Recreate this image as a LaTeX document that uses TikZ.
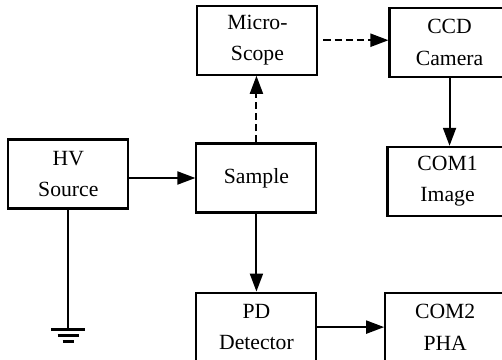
\documentclass[tikz,border=0pt]{standalone}
\usepackage{fontspec}
\setmainfont{Liberation Serif}
\usetikzlibrary{positioning,calc,arrows.meta}
\tikzset{
	blk/.style={draw,line width=1.8pt,minimum width=3.6cm,minimum height=2.07cm,inner sep=0pt,align=center,font=\fontsize{18.5}{27}\selectfont},
	flow/.style={line width=1.7pt,-{Triangle[length=0.54cm,width=0.39cm]}},
	optic/.style={flow,dash pattern=on 6pt off 3.5pt},
}
\begin{document}
\begin{tikzpicture}
	\useasboundingbox (0,0) rectangle (15.06,-10.8);
	%NODES
	\node[blk](hv) at (2.05,-5.22){HV\\Source};
	\node[blk](sample)[right=1.98cm of hv, yshift=-0.12cm]{Sample};
	\node[blk](micro)[above=2.0cm of sample, xshift=0.03cm]{Micro-\\Scope};
	\node[blk](ccd)[right=2.1cm of micro, yshift=-0.06cm]{CCD\\Camera};
	\node[blk](com1)[below=2.04cm of ccd, xshift=-0.06cm]{COM1\\Image};
	\node[blk](pd)[below=2.34cm of sample]{PD\\Detector};
	\node[blk](com2)[right=2.0cm of pd]{COM2\\PHA};
	\coordinate[below=3.6cm of hv.south](gnd);
	%PATHS
	\draw[flow] (sample.west -| hv.east) -- (sample.west);
	\draw[optic] (sample.north) -- (sample.north |- micro.south);
	\draw[optic,shorten <=0.15cm] (micro.east) -- (micro.east -| ccd.west);
	\draw[flow] (ccd.south) -- (ccd.south |- com1.north);
	\draw[flow] (sample.south) -- (pd.north);
	\draw[flow] (pd.east) -- (com2.west);
	%GROUND
	\draw[line width=1.7pt] (hv.south) -- (gnd);
	\draw[line width=2.4pt] ($(gnd)+(-0.51,0)$) -- ($(gnd)+(0.51,0)$);
	\draw[line width=2.4pt] ($(gnd)+(-0.32,-0.18)$) -- ($(gnd)+(0.32,-0.18)$);
	\draw[line width=2.4pt] ($(gnd)+(-0.17,-0.36)$) -- ($(gnd)+(0.17,-0.36)$);
\end{tikzpicture}
\end{document}
